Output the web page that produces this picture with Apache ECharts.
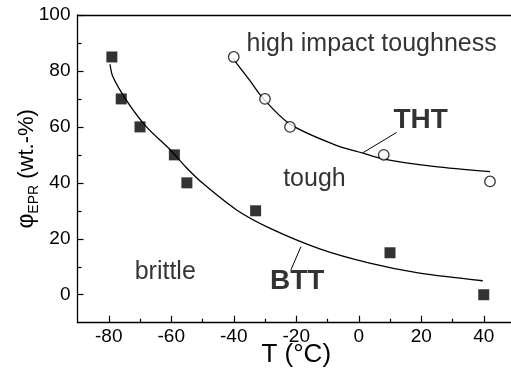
<!DOCTYPE html>
<html>
<head>
<meta charset="utf-8">
<script src="https://cdn.jsdelivr.net/npm/echarts@6/dist/echarts.min.js"></script>
<style>
  html, body { margin: 0; padding: 0; background: #fff; }
  #chart { width: 511px; height: 387px; }
</style>
</head>
<body>
<div id="chart"></div>
<script>
// Axis ticks
const tempMajor = [-80, -60, -40, -20, 0, 20, 40];
const tempMinor = [-70, -50, -30, -10, 10, 30];
const phiMajor = [0, 20, 40, 60, 80, 100];
const phiMinor = [10, 30, 50, 70, 90];

// Brittle–tough transition (BTT): measured points
const bttTemp = [-79, -76, -70, -59, -55, -33, 10, 40];
const bttPhi  = [85, 70, 60, 50, 40, 30, 15, 0];
// BTT fitted curve
const bttFitTemp = [-79.6, -78.7, -74.4, -68, -60.5, -55.2, -50, -39.2, -28.5, -12.5, 3.5, 19.5, 39.7];
const bttFitPhi  = [82.4, 78, 69.6, 60.1, 52, 45.5, 39.9, 30.4, 23.8, 16.4, 11.3, 7.7, 5.0];

// Tough–high-impact-toughness transition (THT): measured points
const thtTemp = [-40, -30, -22, 8, 42];
const thtPhi  = [85, 70, 60, 50, 40.5];
// THT fitted curve
const thtFitTemp = [-40.3, -35, -30.6, -22, -7.6, 1.4, 7.6, 23.9, 42];
const thtFitPhi  = [84.5, 76.8, 70.2, 61, 53.6, 50.6, 48.6, 45.9, 44];

// Leader lines from curve labels to curves
const thtLeaderTemp = [1.4, 12.1];
const thtLeaderPhi  = [50.8, 58];
const bttLeaderTemp = [-18.5, -21.7];
const bttLeaderPhi  = [17.2, 8.9];

// Region and curve labels (left edge, vertical centre)
const noteText = ['high impact toughness', 'tough', 'brittle', 'THT', 'BTT'];
const noteTemp = [-35.9, -24.2, -71.7, 11.1, -28.4];
const notePhi  = [89.6, 41.3, 8.2, 62.5, 4.7];
const noteBold = [false, false, false, true, true];

const zip = (xs, ys) => xs.map((x, i) => [x, ys[i]]);
const INK = '#000';
const FONT = '"Liberation Sans", Arial, Helvetica, sans-serif';

const chart = echarts.init(document.getElementById('chart'), null, { renderer: 'canvas' });

const baseX = {
  type: 'value', min: -90, max: 50,
  splitLine: { show: false }
};
const baseY = {
  type: 'value', min: -10, max: 100,
  splitLine: { show: false }
};

chart.setOption({
  animation: false,
  backgroundColor: '#fff',
  grid: { left: 77.5, top: 15, width: 437.5, height: 307.7, containLabel: false, outerBoundsMode: 'none' },
  xAxis: [
    Object.assign({}, baseX, {
      position: 'bottom',
      axisLine: { show: true, onZero: false, lineStyle: { color: INK, width: 1.3 } },
      axisTick: { show: true, inside: true, length: 7, customValues: tempMajor, lineStyle: { color: INK, width: 1.2 } },
      axisLabel: { show: true, customValues: tempMajor, margin: 5, color: INK, fontSize: 19, fontFamily: FONT },
      name: 'T (°C)', nameLocation: 'middle', nameGap: 19, nameMoveOverlap: false,
      nameTextStyle: { color: INK, fontSize: 26, fontFamily: FONT, verticalAlign: 'top' }
    }),
    Object.assign({}, baseX, {
      position: 'bottom',
      axisLine: { show: false, onZero: false },
      axisTick: { show: true, inside: true, length: 4, customValues: tempMinor, lineStyle: { color: INK, width: 1.2 } },
      axisLabel: { show: false }
    }),
    Object.assign({}, baseX, {
      position: 'top',
      axisLine: { show: true, onZero: false, lineStyle: { color: INK, width: 1.3 } },
      axisTick: { show: false },
      axisLabel: { show: false }
    })
  ],
  yAxis: [
    Object.assign({}, baseY, {
      position: 'left',
      axisLine: { show: true, onZero: false, lineStyle: { color: INK, width: 1.3 } },
      axisTick: { show: true, inside: true, length: 6, customValues: phiMajor, lineStyle: { color: INK, width: 1.2 } },
      axisLabel: { show: true, customValues: phiMajor, margin: 7, color: INK, fontSize: 19, fontFamily: FONT },
      name: '{phi|φ}{sub|EPR}{rest| (wt.-%)}',
      nameLocation: 'middle', nameGap: 36, nameRotate: 90, nameMoveOverlap: false,
      nameTextStyle: {
        color: INK, fontFamily: FONT, fontSize: 22,
        rich: {
          phi: { fontSize: 23, color: INK, fontFamily: FONT, lineHeight: 30 },
          sub: { fontSize: 14, color: INK, fontFamily: FONT, lineHeight: 30, verticalAlign: 'bottom' },
          rest: { fontSize: 22, color: INK, fontFamily: FONT, lineHeight: 30 }
        }
      }
    }),
    Object.assign({}, baseY, {
      position: 'left',
      axisLine: { show: false, onZero: false },
      axisTick: { show: true, inside: true, length: 4, customValues: phiMinor, lineStyle: { color: INK, width: 1.2 } },
      axisLabel: { show: false }
    })
  ],
  series: [
    {
      name: 'BTT fit', type: 'line', xAxisIndex: 0, yAxisIndex: 0,
      data: zip(bttFitTemp, bttFitPhi), smooth: 0.3,
      showSymbol: false, symbol: 'none',
      lineStyle: { color: INK, width: 1.3 }, z: 2
    },
    {
      name: 'THT fit', type: 'line', xAxisIndex: 0, yAxisIndex: 0,
      data: zip(thtFitTemp, thtFitPhi), smooth: 0.3,
      showSymbol: false, symbol: 'none',
      lineStyle: { color: INK, width: 1.3 }, z: 2
    },
    {
      name: 'THT leader', type: 'line', data: zip(thtLeaderTemp, thtLeaderPhi),
      symbol: 'none', lineStyle: { color: INK, width: 1 }, z: 2
    },
    {
      name: 'BTT leader', type: 'line', data: zip(bttLeaderTemp, bttLeaderPhi),
      symbol: 'none', lineStyle: { color: INK, width: 1 }, z: 2
    },
    {
      name: 'BTT', type: 'scatter', data: zip(bttTemp, bttPhi),
      symbol: 'rect', symbolSize: 11,
      itemStyle: { color: INK }, z: 3
    },
    {
      name: 'THT', type: 'scatter', data: zip(thtTemp, thtPhi),
      symbol: 'circle', symbolSize: 10.5,
      itemStyle: { color: '#fff', borderColor: INK, borderWidth: 1.3 }, z: 3
    },
    {
      name: 'notes', type: 'scatter', symbolSize: 0, silent: true, z: 4,
      data: noteText.map((t, i) => ({
        value: [noteTemp[i], notePhi[i]],
        label: {
          show: true, position: 'right', distance: 0,
          formatter: t, color: INK, fontFamily: FONT,
          fontSize: noteBold[i] ? 28 : 25,
          fontWeight: noteBold[i] ? 'bold' : 'normal'
        }
      }))
    }
  ]
});
</script>
</body>
</html>
